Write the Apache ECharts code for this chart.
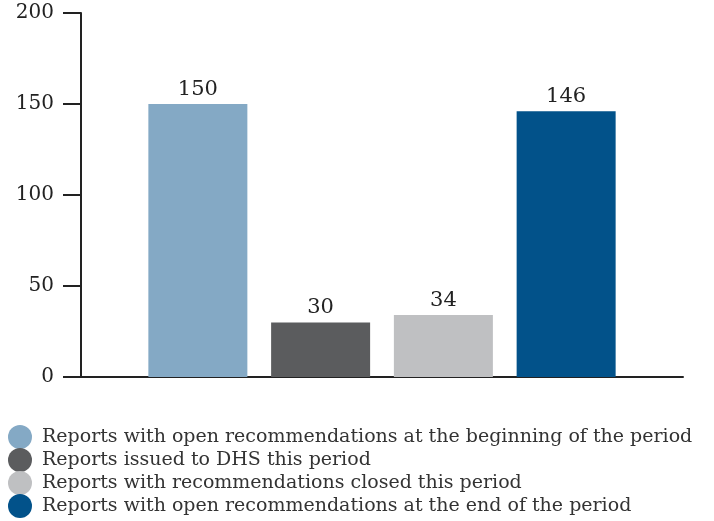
<!DOCTYPE html>
<html><head><meta charset="utf-8">
<script src="https://cdn.jsdelivr.net/npm/echarts@6/dist/echarts.min.js"></script>
<style>html,body{margin:0;padding:0;background:#fff}#c{width:714px;height:521px}</style>
</head><body><div id="c"></div>
<script>
const categories = ['Reports'];
const seriesNames = [
  'Reports with open recommendations at the beginning of the period',
  'Reports issued to DHS this period',
  'Reports with recommendations closed this period',
  'Reports with open recommendations at the end of the period'
];
const seriesValues = [150, 30, 34, 146];
const seriesColors = ['#84a9c5', '#5b5c5e', '#bfc0c2', '#02528a'];
const yTicks = [0, 50, 100, 150, 200];

const font = '"DejaVu Serif", "Liberation Serif", serif';
const chart = echarts.init(document.getElementById('c'));
chart.setOption({
  animation: false,
  grid: {left: 81, right: 31, top: 13, bottom: 144},
  legend: {
    orient: 'vertical', left: 8, top: 425, height: 120, padding: 0,
    icon: 'circle', itemWidth: 34, itemHeight: 24, itemGap: -1,
    textStyle: {fontFamily: font, fontSize: 19, lineHeight: 23, color: '#333'},
    data: seriesNames
  },
  xAxis: {
    type: 'category', data: categories,
    axisLine: {lineStyle: {color: '#222', width: 2}},
    axisTick: {alignWithLabel: true, length: 15, lineStyle: {color: '#222', width: 2}},
    axisLabel: {show: false}
  },
  yAxis: {
    type: 'value', min: yTicks[0], max: yTicks[yTicks.length-1], interval: 50,
    axisLine: {show: true, lineStyle: {color: '#222', width: 2}},
    axisTick: {show: true, length: 18, lineStyle: {color: '#222', width: 2}},
    splitLine: {show: false},
    axisLabel: {margin: 27, fontFamily: font, fontSize: 20, color: '#222'}
  },
  series: seriesNames.map((n, i) => ({
    name: n, type: 'bar',
    data: [seriesValues[i]],
    barWidth: 99, barGap: '24%',
    itemStyle: {color: seriesColors[i]},
    label: {show: true, position: 'top', distance: 4, fontFamily: font, fontSize: 21, color: '#222'}
  }))
});
</script></body></html>
